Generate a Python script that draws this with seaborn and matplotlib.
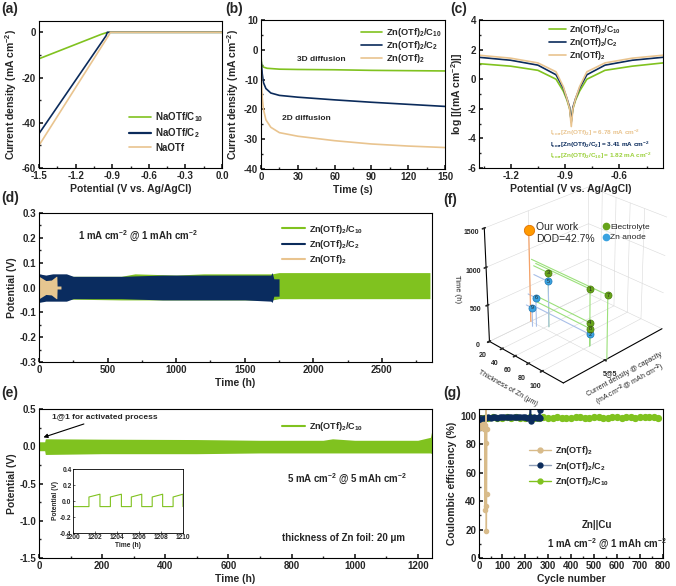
import numpy as np
import pandas as pd
import seaborn as sns
import matplotlib.pyplot as plt
from matplotlib.lines import Line2D
from matplotlib.ticker import MultipleLocator

GREEN = '#80c21f'
NAVY = '#0b2b5b'
TAN = '#e9c48f'

# (a) LSV
a_c10_v = [-1.5, -0.99, -0.95, -0.92, 0.0]
a_c10_j = [-11.7, -0.9, -0.2, 0.0, 0.0]
a_c2_v = [-1.5, -0.95, -0.94, 0.0]
a_c2_j = [-44.8, -1.5, 0.0, 0.0]
a_na_v = [-1.5, -0.925, -0.915, 0.0]
a_na_j = [-50.0, -1.0, 0.0, 0.0]

# (b) chronoamperometry
b_c10_t = [0, 0.5, 2, 5, 15, 30, 60, 90, 120, 150]
b_c10_j = [-2.0, -5.0, -5.8, -6.2, -6.5, -6.6, -6.7, -6.9, -7.0, -7.1]
b_c2_t = [0, 1, 2, 4, 8, 15, 30, 60, 90, 120, 150]
b_c2_j = [-3.0, -8.0, -11.0, -13.0, -14.5, -15.3, -15.9, -16.8, -17.6, -18.3, -19.0]
b_zn_t = [0, 0.5, 1, 2, 4, 8, 15, 30, 60, 90, 120, 150]
b_zn_j = [-5.0, -12.0, -16.0, -20.0, -23.5, -26.0, -27.8, -29.0, -30.5, -31.6, -32.3, -32.8]

# (c) Tafel
c_v = [-1.375, -1.2, -1.05, -0.95, -0.91, -0.89, -0.875, -0.866, -0.857, -0.842, -0.82, -0.78, -0.68, -0.53, -0.36]
c_zn = [1.62, 1.42, 1.1, 0.5, -0.5, -1.3, -2.0, -3.2, -2.0, -1.3, -0.5, 0.5, 1.1, 1.42, 1.62]
c_c2 = [1.48, 1.28, 0.95, 0.3, -0.6, -1.3, -1.9, -2.9, -1.9, -1.3, -0.6, 0.3, 0.95, 1.28, 1.48]
c_c10 = [1.05, 0.88, 0.6, 0.0, -0.8, -1.4, -2.0, -2.8, -2.0, -1.4, -0.8, 0.0, 0.6, 0.88, 1.1]

# (d) symmetric cells, 1 mA cm-2 (voltage envelopes)
d_c10_t = [0, 600, 700, 1000, 1200, 1700, 1750, 2000, 2500, 2850]
d_c10_hi = [0.045, 0.045, 0.055, 0.05, 0.055, 0.055, 0.06, 0.06, 0.06, 0.06]
d_c10_lo = [-0.045, -0.05, -0.05, -0.05, -0.05, -0.05, -0.045, -0.045, -0.045, -0.045]
d_c2_t = [0, 50, 100, 200, 250, 400, 600, 900, 1100, 1300, 1500, 1690, 1700, 1712, 1750]
d_c2_hi = [0.055, 0.05, 0.055, 0.055, 0.045, 0.045, 0.045, 0.05, 0.05, 0.05, 0.05, 0.05, 0.06, 0.035, 0.035]
d_c2_lo = [-0.06, -0.055, -0.055, -0.055, -0.045, -0.045, -0.045, -0.05, -0.05, -0.05, -0.05, -0.055, -0.06, -0.035, -0.035]
d_zn_t = [0, 15, 50, 90, 125, 130, 132, 160]
d_zn_hi = [0.045, 0.04, 0.028, 0.03, 0.045, 0.045, 0.006, 0.006]
d_zn_lo = [-0.045, -0.04, -0.028, -0.03, -0.045, -0.045, -0.006, -0.006]

# (e) 5 mA cm-2
e_t = [0, 18, 20, 25, 200, 500, 700, 900, 930, 1000, 1200, 1240, 1245]
e_hi = [0.06, 0.06, 0.1, 0.1, 0.095, 0.09, 0.08, 0.08, 0.1, 0.08, 0.08, 0.12, 0.22]
e_lo = [-0.06, -0.06, -0.11, -0.11, -0.1, -0.1, -0.09, -0.09, -0.09, -0.09, -0.09, -0.09, -0.1]
ins_t = [1200, 1201.45, 1201.45, 1202.45, 1202.45, 1203.4, 1203.4, 1204.4, 1204.4, 1205.3, 1205.3,
         1206.25, 1206.25, 1207.2, 1207.2, 1208.15, 1208.15, 1209.1, 1209.1, 1210, 1210]
ins_v = [-0.07, -0.07, 0.05, 0.085, -0.07, -0.07, 0.05, 0.085, -0.07, -0.07, 0.05,
         0.085, -0.07, -0.07, 0.05, 0.085, -0.07, -0.07, 0.05, 0.085, -0.07]

# (f) comparison
f_labels = ['1', '2', '3', '4', '5', '6', '7', '8', '9']
f_thick = [100, 100, 42, 100, 42, 32, 130, 100, 29]
f_cd = [4.6, 4.6, 4.4, 4.6, 4.4, 3.8, 4.2, 4.6, 3.6]
f_time = [770, 160, 750, 320, 630, 400, 850, 240, 260]
f_kind = ['Electrolyte', 'Zn anode', 'Electrolyte', 'Electrolyte', 'Zn anode',
          'Zn anode', 'Electrolyte', 'Electrolyte', 'Zn anode']
ours = (20, 4.0, 1250)

# (g) Coulombic efficiency
g_zn_cyc = [1, 3, 5, 7, 9, 11, 13, 15, 17, 19, 21, 23, 25, 27, 28, 29, 30, 31, 32, 33, 34]
g_zn_ce = [91.5, 92.5, 93.0, 92.0, 93.5, 92.8, 94.0, 92.5, 93.2, 94.2, 93.0, 91.0, 94.0,
           34.0, 92.0, 36.5, 110.0, 81.0, 19.0, 45.0, 91.0]
g_c2_cyc = [1, 10, 20, 30, 40, 50, 60, 70, 80, 90, 100, 110, 120, 130, 140, 150, 160, 170, 180,
            190, 200, 210, 220, 224, 226, 230, 240, 250, 260, 264, 266]
g_c2_ce = [95.5, 97.8, 98.4, 98.9, 99.1, 98.8, 99.2, 99.4, 99.0, 99.3, 99.5, 99.1, 99.4, 99.6,
           99.2, 99.5, 99.3, 99.6, 99.4, 99.2, 99.5, 99.0, 99.3, 110.0, 96.5, 98.8, 99.2, 99.0,
           99.3, 104.5, 98.9]
g_c10_cyc = [1] + list(range(20, 781, 20))
g_c10_ce = [97.2, 98.6, 98.9, 99.1, 98.8, 99.0, 99.2, 98.9, 99.1, 99.0, 98.8, 99.1, 99.0, 98.9,
            99.2, 99.0, 98.9, 99.1, 99.0, 98.8, 99.0, 99.2, 99.1, 98.9, 99.0, 99.1, 99.3, 99.0,
            98.9, 99.2, 99.1, 99.0, 99.3, 99.2, 99.0, 99.1, 99.3, 99.4, 99.6, 98.8]

L_C10 = r'Zn(OTf)$_2$/C$_{10}$'
L_C2 = r'Zn(OTf)$_2$/C$_2$'
L_ZN = r'Zn(OTf)$_2$'
CD = r'Current density (mA cm$^{-2}$)'

sns.set_theme(style='ticks')
plt.rcParams.update({
    'font.family': ['Liberation Sans', 'DejaVu Sans'],
    'font.weight': 'bold', 'axes.labelweight': 'bold',
    'font.size': 7, 'axes.labelsize': 7.5,
    'xtick.labelsize': 7, 'ytick.labelsize': 7,
    'mathtext.fontset': 'custom', 'mathtext.rm': 'Liberation Sans:bold',
    'mathtext.it': 'Liberation Sans:bold:italic', 'mathtext.bf': 'Liberation Sans:bold',
    'axes.unicode_minus': False,
    'xtick.direction': 'in', 'ytick.direction': 'in',
    'xtick.major.size': 3, 'ytick.major.size': 3,
    'xtick.minor.size': 1.7, 'ytick.minor.size': 1.7,
    'xtick.major.pad': 2, 'ytick.major.pad': 2,
    'axes.linewidth': 0.8, 'axes.edgecolor': 'black',
    'axes.labelpad': 2,
})

W, H = 676, 586
fig = plt.figure(figsize=(W / 100, H / 100), dpi=100)


def box(l, t, r, b, **kw):
    return fig.add_axes([l / W, 1 - b / H, (r - l) / W, (b - t) / H], **kw)


def ticks(ax, xmaj, xmin, ymaj, ymin):
    ax.xaxis.set_major_locator(MultipleLocator(xmaj))
    ax.xaxis.set_minor_locator(MultipleLocator(xmin))
    ax.yaxis.set_major_locator(MultipleLocator(ymaj))
    ax.yaxis.set_minor_locator(MultipleLocator(ymin))


def leg(ax, handles, anchor, loc='upper left', size=7, hl=2.3, sp=0.35):
    ax.legend(handles=handles, loc=loc, bbox_to_anchor=anchor, frameon=False,
              fontsize=size, handlelength=hl, handletextpad=0.4, labelspacing=sp,
              borderaxespad=0)


def panel(x, y, s):
    fig.text(x / W, 1 - y / H, s, fontsize=10, fontweight='bold', va='center', ha='left')


# ---------- (f) 3D (added first so the 2D panels sit above it)
ax3 = box(474, 186, 674, 380, projection='3d')
ax3.set_facecolor((1, 1, 1, 0))
ax3.computed_zorder = False
ax3.view_init(elev=28, azim=-45)
ax3.set_box_aspect((3, 4, 3.55), zoom=1.1)
ax3.set_xlim(20, 130)
ax3.set_ylim(0, 10)
ax3.set_zlim(0, 1500)
for a in (ax3.xaxis, ax3.yaxis, ax3.zaxis):
    a.set_pane_color((1, 1, 1, 0))
    a._axinfo['grid'].update(color='#d9d9d9', linewidth=0.4)
    a.line.set_linewidth(0.8)
try:
    ax3.zaxis.set_ticks_position('lower')
    ax3.zaxis.set_label_position('lower')
except Exception:
    pass
ax3.set_xticks([20, 40, 60, 80, 100])
ax3.set_yticks([4])
ax3.set_yticklabels(['5@5'])
ax3.set_zticks([0, 500, 1000, 1500])
ax3.tick_params(labelsize=5, pad=-3)
ax3.set_xlabel('Thickness of Zn (μm)', fontsize=5, fontweight='normal', labelpad=-9)
ax3.set_ylabel('Current density @ capacity\n(mA cm$^{-2}$ @ mAh cm$^{-2}$)', fontsize=5,
               fontweight='normal', labelpad=-8)
ax3.set_zlabel('Time (h)', fontsize=5.5, fontweight='normal', labelpad=-9)

ball = {'Electrolyte': ('#66a31a', '#4d7f10', '#9be07a'),
        'Zn anode': ('#3aa2e0', '#1f78b4', '#a9bfe8')}
for x, y, z, k in zip(f_thick, f_cd, f_time, f_kind):
    ax3.plot([x, x], [y, y], [0, z], color=ball[k][2], lw=0.8, zorder=1)
    ax3.plot([20, x], [y, y], [z, z], color=ball[k][2], lw=0.8, zorder=1)
ax3.plot([ours[0]] * 2, [ours[1]] * 2, [0, ours[2]], color='#f5a36a', lw=0.9, zorder=1)
order = np.argsort(np.array(f_thick) + np.array(f_cd) * 10)
for i in order:
    c, ec, _ = ball[f_kind[i]]
    ax3.scatter([f_thick[i]], [f_cd[i]], [f_time[i]], s=26, color=c, edgecolors=ec,
                linewidths=0.5, depthshade=False, zorder=3 + i)
    ax3.text(f_thick[i], f_cd[i], f_time[i], f_labels[i], fontsize=4, fontweight='normal',
             ha='center', va='center', zorder=20)
ax3.scatter([ours[0]], [ours[1]], [ours[2]], s=55, color='#ff9a00', edgecolors='#e07000',
            linewidths=0.6, depthshade=False, zorder=30)
fig.text(536 / W, 1 - 233 / H, 'Our work\nDOD=42.7%', fontsize=7.5, fontweight='normal',
         va='center', ha='left', linespacing=1.15)
fig.legend(handles=[Line2D([], [], ls='', marker='o', ms=4.5, color='#66a31a', label='Electrolyte'),
                    Line2D([], [], ls='', marker='o', ms=4.5, color='#3aa2e0', label='Zn anode')],
           loc='upper left', bbox_to_anchor=(598 / W, 1 - 220 / H), frameon=False,
           prop={'size': 6, 'weight': 'normal'}, handletextpad=0.1, labelspacing=0.3,
           borderaxespad=0, handlelength=1.0)

# ---------- (a)
ax = box(39, 21, 222, 168)
sns.lineplot(x=a_c10_v, y=a_c10_j, color=GREEN, lw=1.2, ax=ax, sort=False, estimator=None)
sns.lineplot(x=a_c2_v, y=a_c2_j, color=NAVY, lw=1.2, ax=ax, sort=False, estimator=None)
sns.lineplot(x=a_na_v, y=a_na_j, color=TAN, lw=1.2, ax=ax, sort=False, estimator=None)
ax.set_xlim(-1.5, 0.0)
ax.set_ylim(-60, 5)
ticks(ax, 0.3, 0.15, 20, 10)
ax.set_xlabel('Potential (V vs. Ag/AgCl)')
ax.set_ylabel(CD)
leg(ax, [Line2D([], [], color=GREEN, lw=1.2, label=r'NaOTf/C$_{10}$'),
         Line2D([], [], color=NAVY, lw=1.6, label=r'NaOTf/C$_2$'),
         Line2D([], [], color=TAN, lw=1.2, label='NaOTf')], (0.47, 0.42), sp=0.25)

# ---------- (b)
ax = box(261, 20, 445, 169)
sns.lineplot(x=b_c10_t, y=b_c10_j, color=GREEN, lw=1.2, ax=ax, sort=False, estimator=None)
sns.lineplot(x=b_c2_t, y=b_c2_j, color=NAVY, lw=1.2, ax=ax, sort=False, estimator=None)
sns.lineplot(x=b_zn_t, y=b_zn_j, color=TAN, lw=1.2, ax=ax, sort=False, estimator=None)
ax.set_xlim(0, 150)
ax.set_ylim(-40, 10)
ticks(ax, 30, 15, 10, 5)
ax.set_xlabel('Time (s)')
ax.set_ylabel(CD)
ax.text(29, -3.4, '3D diffusion', fontsize=6, va='center')
ax.text(17, -23.2, '2D diffusion', fontsize=6, va='center')
leg(ax, [Line2D([], [], color=GREEN, lw=1.2, label=L_C10),
         Line2D([], [], color=NAVY, lw=1.2, label=L_C2),
         Line2D([], [], color=TAN, lw=1.2, label=L_ZN)], (1.0, 0.985), loc='upper right',
    size=6.7, sp=0.0)

# ---------- (c)
ax = box(479, 20, 663, 168)
sns.lineplot(x=c_v, y=c_c10, color=GREEN, lw=1.2, ax=ax, sort=False, estimator=None)
sns.lineplot(x=c_v, y=c_c2, color=NAVY, lw=1.2, ax=ax, sort=False, estimator=None)
sns.lineplot(x=c_v, y=c_zn, color=TAN, lw=1.2, ax=ax, sort=False, estimator=None)
ax.set_xlim(-1.375, -0.36)
ax.set_ylim(-6, 4)
ticks(ax, 0.3, 0.15, 2, 1)
ax.set_xlabel('Potential (V vs. Ag/AgCl)')
ax.set_ylabel(r'log [|(mA cm$^{-2}$)|]')
ax.text(-0.985, -3.64, r'I$_{\rm corr}$[Zn(OTf)$_2$] = 6.78 mA cm$^{-2}$', fontsize=4.6, color=TAN, va='center')
ax.text(-0.985, -4.45, r'I$_{\rm corr}$[Zn(OTf)$_2$/C$_2$] = 3.41 mA cm$^{-2}$', fontsize=4.6, color=NAVY, va='center')
ax.text(-0.985, -5.15, r'I$_{\rm corr}$[Zn(OTf)$_2$/C$_{10}$] = 1.82 mA cm$^{-2}$', fontsize=4.6, color='#9bd03a', va='center')
leg(ax, [Line2D([], [], color=GREEN, lw=1.2, label=L_C10),
         Line2D([], [], color=NAVY, lw=1.2, label=L_C2),
         Line2D([], [], color=TAN, lw=1.2, label=L_ZN)], (0.36, 1.0), size=6.2, hl=2.0,
    sp=0.0)

# ---------- (d)
ax = box(39, 213, 432, 362)
ax.fill_between(d_c10_t, d_c10_lo, d_c10_hi, color=GREEN, lw=0)
ax.fill_between(d_c2_t, d_c2_lo, d_c2_hi, color='#0a2c5f', lw=0)
ax.fill_between(d_zn_t, d_zn_lo, d_zn_hi, color='#e6c690', lw=0)
ax.set_xlim(0, 2865)
ax.set_ylim(-0.3, 0.3)
ticks(ax, 500, 250, 0.1, 0.05)
ax.set_xlabel('Time (h)')
ax.set_ylabel('Potential (V)')
ax.text(0.10, 0.84, r'1 mA cm$^{-2}$ @ 1 mAh cm$^{-2}$', transform=ax.transAxes, fontsize=7, va='center')
leg(ax, [Line2D([], [], color=GREEN, lw=1.5, label=L_C10),
         Line2D([], [], color=NAVY, lw=1.5, label=L_C2),
         Line2D([], [], color=TAN, lw=1.5, label=L_ZN)], (0.61, 0.96), size=6.5, hl=2.5,
    sp=0.25)

# ---------- (e)
ax = box(39, 409, 432, 558)
ax.fill_between(e_t, e_lo, e_hi, color=GREEN, lw=0)
ax.set_xlim(0, 1245)
ax.set_ylim(-1.5, 0.5)
ticks(ax, 200, 100, 0.5, 0.25)
ax.set_xlabel('Time (h)')
ax.set_ylabel('Potential (V)')
ax.annotate('1@1 for activated process', xy=(14, 0.12), xytext=(40, 0.39), fontsize=6,
            va='center', ha='left',
            arrowprops=dict(arrowstyle='-|>', color='black', lw=0.8, mutation_scale=6,
                            shrinkA=0, shrinkB=0))
ax.text(975, -0.44, r'5 mA cm$^{-2}$ @ 5 mAh cm$^{-2}$', fontsize=7, ha='center', va='center')
ax.text(965, -1.23, 'thickness of Zn foil: 20 μm', fontsize=7, ha='center', va='center')
leg(ax, [Line2D([], [], color=GREEN, lw=1.5, label=L_C10)], (0.61, 0.95), size=6.5, hl=2.5)

ins = box(73, 469, 183, 533)
ins.plot(ins_t, ins_v, color=GREEN, lw=0.8)
ins.set_xlim(1200, 1210)
ins.set_ylim(-0.4, 0.4)
ins.xaxis.set_major_locator(MultipleLocator(2))
ins.yaxis.set_major_locator(MultipleLocator(0.2))
ins.tick_params(labelsize=4.8, length=1.5, pad=1, width=0.5)
for s in ins.spines.values():
    s.set_linewidth(0.6)
ins.set_xlabel('Time (h)', fontsize=4.8, labelpad=0.5)
ins.set_ylabel('Potential (V)', fontsize=4.8, labelpad=0.5)

# ---------- (g)
ax = box(479, 409, 663, 558)
ax.plot(g_c10_cyc, g_c10_ce, color=GREEN, lw=1.4, marker='o', ms=4.2, mec=GREEN)
ax.plot(g_c2_cyc, g_c2_ce, color=NAVY, lw=1.0, marker='o', ms=3.6, mec=NAVY)
ax.plot(g_zn_cyc, g_zn_ce, color='#d8bb8a', lw=1.0, marker='o', ms=3.0, mec='#d8bb8a')
ax.set_xlim(0, 800)
ax.set_ylim(0, 105)
ticks(ax, 100, 50, 20, 10)
ax.set_xlabel('Cycle number')
ax.set_ylabel('Coulombic efficiency (%)')
ax.text(513, 23.2, 'Zn||Cu', fontsize=7, ha='center', va='center')
ax.text(557, 9.7, r'1 mA cm$^{-2}$ @ 1 mAh cm$^{-2}$', fontsize=7, ha='center', va='center')
leg(ax, [Line2D([], [], color='#d8bb8a', lw=1.0, marker='o', ms=3.5, label=L_ZN),
         Line2D([], [], color='#8f9fb8', lw=1.0, marker='o', ms=3.5, mfc=NAVY, mec=NAVY, label=L_C2),
         Line2D([], [], color=GREEN, lw=1.0, marker='o', ms=3.5, label=L_C10)],
    (0.25, 0.79), size=6.5, hl=2.5, sp=0.3)

panel(1, 9, '(a)')
panel(225, 9, '(b)')
panel(450, 9, '(c)')
panel(1, 198, '(d)')
panel(443, 200, '(f)')
panel(1, 393, '(e)')
panel(443, 393, '(g)')

fig.savefig('out.png', dpi=100)
